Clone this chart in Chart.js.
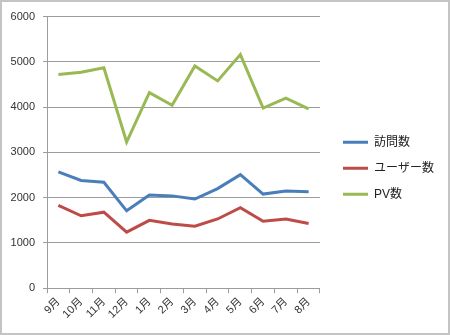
<!DOCTYPE html>
<html>
<head>
<meta charset="utf-8">
<script src="https://cdn.jsdelivr.net/npm/chart.js@4"></script>
<style>
  html, body { margin: 0; padding: 0; background: #fff; }
  #wrap {
    width: 450px; height: 335px; box-sizing: border-box;
    border: 2px solid #c4c4c4; position: relative;
  }
  #wrap canvas { display: block; }
</style>
</head>
<body>
<div id="wrap"><canvas id="chart" width="446" height="331"></canvas></div>
<script>
const months = ['9月', '10月', '11月', '12月', '1月', '2月', '3月', '4月', '5月', '6月', '7月', '8月'];
const visits = [2570, 2380, 2340, 1710, 2060, 2040, 1970, 2200, 2510, 2080, 2150, 2130];
const users  = [1830, 1600, 1680, 1240, 1500, 1420, 1370, 1530, 1780, 1480, 1530, 1430];
const pv     = [4720, 4770, 4870, 3230, 4320, 4040, 4910, 4580, 5160, 3980, 4200, 3960];

const seriesNames = ['訪問数', 'ユーザー数', 'PV数'];
const seriesColors = ['#4a7ebb', '#be4b48', '#98b954'];

const fontFamily = '"Liberation Sans", "Noto Sans CJK JP", sans-serif';
const gridColor = '#9c9c9c';

function drawChart() {
  const datasets = [visits, users, pv].map((vals, i) => ({
    label: seriesNames[i],
    data: vals,
    borderColor: seriesColors[i],
    backgroundColor: seriesColors[i],
    borderWidth: 3,
    pointRadius: 0,
    tension: 0,
    yAxisID: 'y'
  }));

  new Chart(document.getElementById('chart'), {
    type: 'line',
    data: { labels: months, datasets },
    options: {
      responsive: false,
      animation: false,
      layout: { padding: { top: 11.5, left: 4, right: 4, bottom: 10 } },
      plugins: {
        tooltip: { enabled: false },
        legend: {
          position: 'right',
          maxWidth: 200,   // layout would otherwise cap it and cut the labels
          labels: {
            boxWidth: 25,
            boxHeight: 3,
            padding: 14,
            color: '#222',
            font: { family: fontFamily, size: 12 },
            generateLabels: chart =>
              Chart.defaults.plugins.legend.labels.generateLabels(chart)
                .map(l => ({ ...l, lineWidth: 0 }))
          }
        }
      },
      scales: {
        x: {
          offset: true,
          grid: { offset: true, drawOnChartArea: false, drawTicks: true, tickLength: 5, color: gridColor },
          border: { display: true, color: gridColor },
          ticks: {
            minRotation: 45, maxRotation: 45, autoSkip: false,
            color: '#333', padding: 2,
            font: { family: fontFamily, size: 11 }
          },
          // rotated labels may hang under the y labels, don't let them push the plot
          afterFit: s => { s.paddingLeft = 0; s.paddingRight = 0; }
        },
        y: {
          min: 0, max: 6000,
          grid: { color: gridColor, tickLength: 4 },
          border: { display: true, color: gridColor },
          ticks: {
            stepSize: 1000, color: '#333', padding: 8,
            font: { family: fontFamily, size: 11 },
            callback: v => String(v)
          },
          // labels are clipped to the scale box, so keep it wide enough
          afterFit: s => { s.width = 41; }
        },
        gap: {
          position: 'right',
          display: true,
          grid: { display: false },
          border: { display: false },
          ticks: { display: false },
          afterFit: s => { s.width = 9; }
        }
      }
    }
  });
}

// make sure the CJK fallback font is ready before the legend measures its text
const fontReady = document.fonts && document.fonts.load
  ? document.fonts.load('12px "Noto Sans CJK JP"', '訪問数ユーザー月').catch(() => {})
  : Promise.resolve();
fontReady.then(drawChart);
</script>
</body>
</html>
